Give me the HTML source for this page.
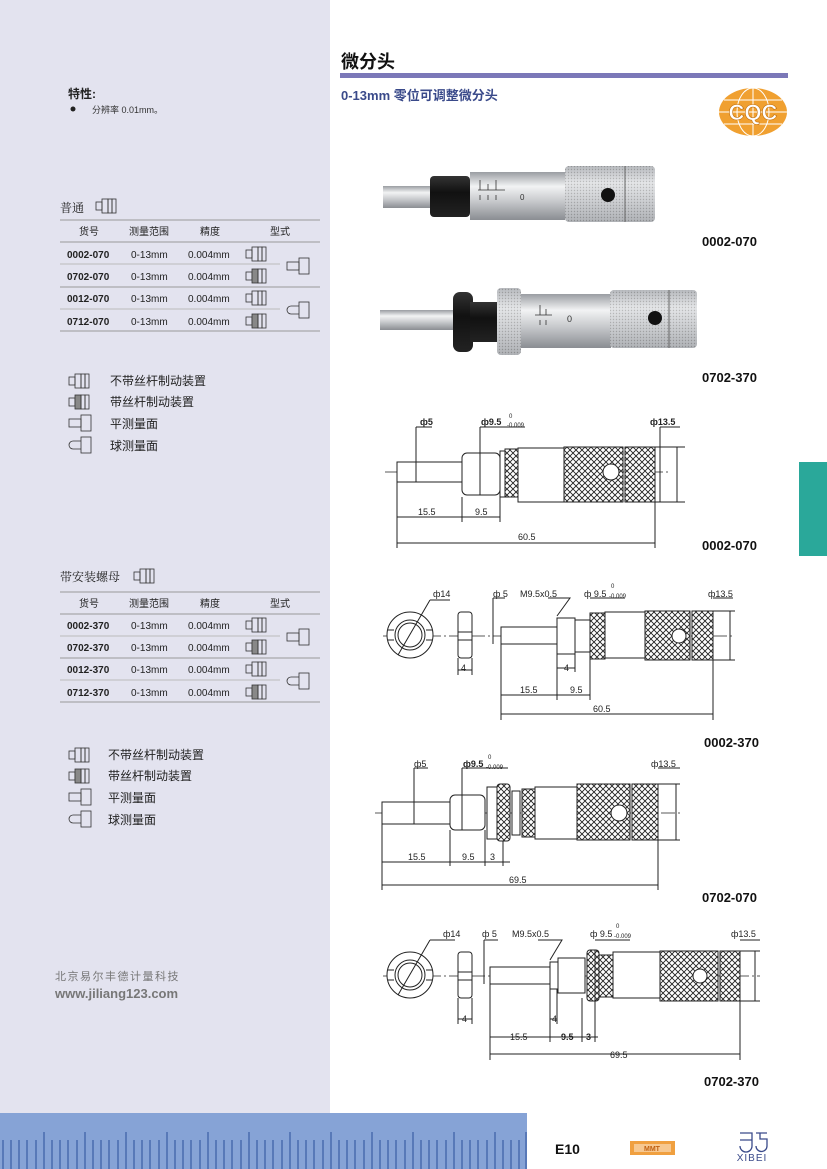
<!DOCTYPE html>
<html><head><meta charset="utf-8"><style>
html,body{margin:0;padding:0;background:#fff}
svg{display:block}
text{font-family:"Liberation Sans","Noto Sans CJK SC",sans-serif}
.s{font-family:"Noto Serif CJK SC","Liberation Serif",serif}
</style></head><body>
<svg width="827" height="1169" viewBox="0 0 827 1169" xmlns="http://www.w3.org/2000/svg">
<defs>
<pattern id="kn" width="6" height="6" patternUnits="userSpaceOnUse">
<rect width="6" height="6" fill="#fff"/><path d="M0 0L6 6M6 0L0 6" stroke="#222" stroke-width="0.9"/>
</pattern>
<pattern id="pk" width="3" height="3" patternUnits="userSpaceOnUse">
<rect width="3" height="3" fill="#d6d8db"/><circle cx="1.5" cy="1.5" r="0.7" fill="#8a8a8a"/>
</pattern>
<linearGradient id="sil" x1="0" y1="0" x2="0" y2="1"><stop offset="0" stop-color="#9a9da2"/><stop offset=".3" stop-color="#f2f3f4"/><stop offset=".6" stop-color="#c8cacd"/><stop offset="1" stop-color="#8a8d92"/></linearGradient>
<linearGradient id="blk" x1="0" y1="0" x2="0" y2="1"><stop offset="0" stop-color="#333"/><stop offset=".4" stop-color="#111"/><stop offset="1" stop-color="#222"/></linearGradient>
<g id="i1"><rect x="0" y="3" width="6" height="8" fill="none" stroke="#333" stroke-width=".8"/><rect x="6" y="0" width="6" height="14" fill="none" stroke="#333" stroke-width=".8"/><rect x="12" y="0" width="4" height="14" fill="none" stroke="#333" stroke-width=".8"/><rect x="16" y="0" width="4" height="14" fill="none" stroke="#333" stroke-width=".8"/></g>
<g id="i2"><rect x="0" y="3" width="6" height="8" fill="none" stroke="#333" stroke-width=".8"/><rect x="6" y="0" width="6" height="14" fill="#888" stroke="#333" stroke-width=".8"/><rect x="12" y="0" width="4" height="14" fill="none" stroke="#333" stroke-width=".8"/><rect x="16" y="0" width="4" height="14" fill="none" stroke="#333" stroke-width=".8"/></g>
<g id="i3"><rect x="0" y="4" width="12" height="8" fill="none" stroke="#333" stroke-width=".8"/><rect x="12" y="0" width="10" height="16" fill="none" stroke="#333" stroke-width=".8"/></g>
<g id="i4"><path d="M12 4H4A4 4 0 0 0 4 12H12" fill="none" stroke="#333" stroke-width=".8"/><rect x="12" y="0" width="10" height="16" fill="none" stroke="#333" stroke-width=".8"/></g>
</defs>

<rect x="0" y="0" width="330" height="1113" fill="#e3e3ef"/>
<rect x="0" y="1113" width="527" height="56" fill="#86a3d6"/>
<g stroke="#2a4f9a" stroke-width="1">
<path d="M3 1140V1169M11 1140V1169M19 1140V1169M27 1140V1169M36 1140V1169M52 1140V1169M60 1140V1169M68 1140V1169M77 1140V1169M93 1140V1169M101 1140V1169M109 1140V1169M118 1140V1169M134 1140V1169M142 1140V1169M150 1140V1169M159 1140V1169M175 1140V1169M183 1140V1169M191 1140V1169M200 1140V1169M216 1140V1169M224 1140V1169M232 1140V1169M241 1140V1169M257 1140V1169M265 1140V1169M273 1140V1169M282 1140V1169M298 1140V1169M306 1140V1169M314 1140V1169M323 1140V1169M339 1140V1169M347 1140V1169M355 1140V1169M364 1140V1169M380 1140V1169M388 1140V1169M396 1140V1169M405 1140V1169M421 1140V1169M429 1140V1169M437 1140V1169M446 1140V1169M462 1140V1169M470 1140V1169M478 1140V1169M487 1140V1169M503 1140V1169M511 1140V1169M519 1140V1169"/>
<path d="M44 1132V1169M85 1132V1169M126 1132V1169M167 1132V1169M208 1132V1169M249 1132V1169M290 1132V1169M331 1132V1169M372 1132V1169M413 1132V1169M454 1132V1169M495 1132V1169M526 1132V1169"/>
</g>
<rect x="799" y="462" width="28" height="94" fill="#2aa89a"/>

<text x="341" y="68" font-size="18" font-weight="bold" fill="#111">微分头</text>
<rect x="340" y="73" width="448" height="5" fill="#7b78b8"/>
<text x="341" y="100" font-size="13" font-weight="bold" fill="#3a4a8a">0-13mm 零位可调整微分头</text>
<ellipse cx="753" cy="112" rx="34" ry="24" fill="#f0a030"/>
<g stroke="#fff" stroke-width="1" fill="none"><ellipse cx="753" cy="112" rx="16" ry="24"/><path d="M719 112H787M724 100H782M724 124H782M753 88V136"/></g>
<text x="753" y="120" font-size="22" font-weight="bold" fill="#fff" text-anchor="middle" stroke="#c07010" stroke-width=".6">CQC</text>

<text x="68" y="98" font-size="12" font-weight="bold" fill="#222">特性:</text>
<circle cx="73" cy="109" r="2.5" fill="#222"/>
<text x="92" y="113" font-size="9" fill="#333">分辨率 0.01mm。</text>

<text x="60" y="212" font-size="12" fill="#222" class="s">普通</text>
<use href="#i1" x="96" y="199"/>
<g stroke="#999" stroke-width="1"><path d="M60 220H320M60 242H320M60 287H320M60 331H320"/><path d="M60 264H280M60 309H280" stroke="#bbb"/></g>
<g font-size="10" fill="#222"><text x="79" y="235">货号</text><text x="129" y="235">测量范围</text><text x="200" y="235">精度</text><text x="270" y="235">型式</text></g>
<g font-size="10" fill="#222">
<text x="67" y="258" font-weight="bold">0002-070</text><text x="131" y="258">0-13mm</text><text x="188" y="258">0.004mm</text>
<text x="67" y="280" font-weight="bold">0702-070</text><text x="131" y="280">0-13mm</text><text x="188" y="280">0.004mm</text>
<text x="67" y="302" font-weight="bold">0012-070</text><text x="131" y="302">0-13mm</text><text x="188" y="302">0.004mm</text>
<text x="67" y="325" font-weight="bold">0712-070</text><text x="131" y="325">0-13mm</text><text x="188" y="325">0.004mm</text>
</g>
<use href="#i1" x="246" y="247"/><use href="#i2" x="246" y="269"/><use href="#i1" x="246" y="291"/><use href="#i2" x="246" y="314"/>
<use href="#i3" x="287" y="258"/><use href="#i4" x="287" y="302"/>

<g font-size="12" fill="#222" class="s">
<use href="#i1" x="69" y="374"/><text x="110" y="385">不带丝杆制动装置</text>
<use href="#i2" x="69" y="395"/><text x="110" y="406">带丝杆制动装置</text>
<use href="#i3" x="69" y="415"/><text x="110" y="428">平测量面</text>
<use href="#i4" x="69" y="437"/><text x="110" y="450">球测量面</text>
</g>

<text x="60" y="581" font-size="12" fill="#222" class="s">带安装螺母</text>
<use href="#i1" x="134" y="569"/>
<g stroke="#999" stroke-width="1"><path d="M60 592H320M60 614H320M60 658H320M60 702H320"/><path d="M60 636H280M60 680H280" stroke="#bbb"/></g>
<g font-size="10" fill="#222"><text x="79" y="607">货号</text><text x="129" y="607">测量范围</text><text x="200" y="607">精度</text><text x="270" y="607">型式</text></g>
<g font-size="10" fill="#222">
<text x="67" y="629" font-weight="bold">0002-370</text><text x="131" y="629">0-13mm</text><text x="188" y="629">0.004mm</text>
<text x="67" y="651" font-weight="bold">0702-370</text><text x="131" y="651">0-13mm</text><text x="188" y="651">0.004mm</text>
<text x="67" y="673" font-weight="bold">0012-370</text><text x="131" y="673">0-13mm</text><text x="188" y="673">0.004mm</text>
<text x="67" y="696" font-weight="bold">0712-370</text><text x="131" y="696">0-13mm</text><text x="188" y="696">0.004mm</text>
</g>
<use href="#i1" x="246" y="618"/><use href="#i2" x="246" y="640"/><use href="#i1" x="246" y="662"/><use href="#i2" x="246" y="685"/>
<use href="#i3" x="287" y="629"/><use href="#i4" x="287" y="673"/>

<g font-size="12" fill="#222" class="s">
<use href="#i1" x="69" y="748"/><text x="108" y="759">不带丝杆制动装置</text>
<use href="#i2" x="69" y="769"/><text x="108" y="780">带丝杆制动装置</text>
<use href="#i3" x="69" y="789"/><text x="108" y="802">平测量面</text>
<use href="#i4" x="69" y="811"/><text x="108" y="824">球测量面</text>
</g>

<text x="55" y="980" font-size="11" fill="#777" letter-spacing="1.5">北京易尔丰德计量科技</text>
<text x="55" y="998" font-size="13" font-weight="bold" fill="#777">www.jiliang123.com</text>

<!-- photos -->
<rect x="383" y="186" width="50" height="22" fill="url(#sil)"/>
<rect x="430" y="176" width="40" height="41" rx="4" fill="url(#blk)"/>
<rect x="470" y="172" width="95" height="48" fill="url(#sil)"/>
<g stroke="#333" stroke-width=".8"><path d="M478 190H505M480 180V190M488 184V190M496 180V190M480 200V195M488 200V195M496 200V195"/></g>
<text x="520" y="200" font-size="8" fill="#333">0</text>
<rect x="565" y="166" width="90" height="56" rx="4" fill="url(#pk)"/>
<rect x="565" y="166" width="90" height="56" rx="4" fill="url(#sil)" opacity=".5"/>
<line x1="625" y1="166" x2="625" y2="222" stroke="#666"/>
<circle cx="608" cy="195" r="7" fill="#111"/>

<rect x="380" y="310" width="76" height="20" fill="url(#sil)"/>
<rect x="453" y="292" width="20" height="60" rx="7" fill="url(#blk)"/>
<rect x="470" y="302" width="27" height="40" fill="url(#blk)"/>
<rect x="497" y="288" width="24" height="67" rx="4" fill="url(#pk)"/>
<rect x="497" y="288" width="24" height="67" rx="4" fill="url(#sil)" opacity=".5"/>
<rect x="521" y="294" width="90" height="54" fill="url(#sil)"/>
<g stroke="#333" stroke-width=".8"><path d="M535 315H552M540 305V315M546 309V315M540 325V320M546 325V320"/></g>
<text x="567" y="322" font-size="9" fill="#333">0</text>
<rect x="610" y="290" width="87" height="58" rx="4" fill="url(#pk)"/>
<rect x="610" y="290" width="87" height="58" rx="4" fill="url(#sil)" opacity=".5"/>
<line x1="669" y1="290" x2="669" y2="348" stroke="#666"/>
<circle cx="655" cy="318" r="7" fill="#111"/>

<g font-size="13" font-weight="bold" fill="#111">
<text x="702" y="246">0002-070</text><text x="702" y="382">0702-370</text>
<text x="702" y="550">0002-070</text><text x="704" y="747">0002-370</text>
<text x="702" y="902">0702-070</text><text x="704" y="1086">0702-370</text>
</g>

<g fill="none" stroke="#222" stroke-width="1" font-size="9">
<path d="M385 472H670" stroke-dasharray="14 3 2 3" stroke-width=".7"/>
<rect x="397" y="462" width="65" height="20" fill="#fff"/>
<rect x="462" y="453" width="38" height="42" rx="5" fill="#fff"/>
<rect x="500" y="451" width="5" height="46" fill="#fff"/>
<rect x="505" y="449" width="13" height="48" fill="url(#kn)"/>
<rect x="518" y="448" width="46" height="54" fill="#fff"/>
<rect x="564" y="447" width="59" height="55" fill="url(#kn)"/>
<rect x="625" y="447" width="30" height="55" fill="url(#kn)"/>
<circle cx="611" cy="472" r="8" fill="#fff"/>
<path d="M397 482V548M462 497V522M500 497V522M655 502V548M416 427V482M480 427V495M660 427V502M655 447H685M655 502H685M677 447V502M416 427H432M480 427H525M660 427H680"/>
<path d="M397 517H500M397 543H655"/>
<path d="M383 636H735" stroke-dasharray="14 3 2 3" stroke-width=".7"/>
<circle cx="410" cy="635" r="23" fill="#fff"/><circle cx="410" cy="635" r="15"/><circle cx="410" cy="635" r="12"/>
<path d="M388 630H394M388 640H394M426 630H432M426 640H432M398 655L430 600M430 600H450"/>
<rect x="458" y="612" width="14" height="46" rx="3" fill="#fff"/>
<path d="M458 632H472M458 640H472M458 658V675M472 658V675M458 670H472"/>
<rect x="501" y="627" width="56" height="17" fill="#fff"/>
<rect x="557" y="618" width="18" height="36" fill="#fff"/>
<rect x="575" y="620" width="15" height="32" fill="#fff"/>
<rect x="590" y="613" width="15" height="46" fill="url(#kn)"/>
<rect x="605" y="612" width="40" height="46" fill="#fff"/>
<rect x="645" y="611" width="45" height="49" fill="url(#kn)"/>
<rect x="692" y="611" width="21" height="49" fill="url(#kn)"/>
<circle cx="679" cy="636" r="7" fill="#fff"/>
<path d="M493 598V644M493 598H505M557 616L570 598H548M590 613V700M590 598H625M713 611H735M713 660H735M730 611V660M713 598H733M713 660V720M501 644V720M557 654V700M575 654V672"/>
<path d="M557 668H575M501 695H590M501 714H713"/>
<path d="M375 813H680" stroke-dasharray="14 3 2 3" stroke-width=".7"/>
<rect x="382" y="802" width="68" height="22" fill="#fff"/>
<rect x="450" y="795" width="35" height="35" rx="5" fill="#fff"/>
<rect x="487" y="787" width="10" height="52" fill="#fff"/>
<rect x="497" y="784" width="13" height="57" rx="3" fill="url(#kn)"/>
<rect x="512" y="791" width="8" height="44" fill="#fff"/>
<rect x="522" y="789" width="13" height="48" fill="url(#kn)"/>
<rect x="535" y="787" width="42" height="52" fill="#fff"/>
<rect x="577" y="784" width="53" height="56" fill="url(#kn)"/>
<rect x="632" y="784" width="26" height="56" fill="url(#kn)"/>
<circle cx="619" cy="813" r="8" fill="#fff"/>
<path d="M382 824V890M450 830V866M485 830V866M503 841V866M658 840V890M414 768V824M462 768V830M414 768H428M462 768H508M658 768H680M658 784H680M658 840H680M676 784V840"/>
<path d="M382 862H510M382 885H658"/>
<path d="M383 976H760" stroke-dasharray="14 3 2 3" stroke-width=".7"/>
<circle cx="410" cy="975" r="23" fill="#fff"/><circle cx="410" cy="975" r="15"/><circle cx="410" cy="975" r="12"/>
<path d="M388 970H394M388 980H394M426 970H432M426 980H432M398 995L430 940M430 940H455"/>
<rect x="458" y="952" width="14" height="46" rx="3" fill="#fff"/>
<path d="M458 972H472M458 980H472M458 998V1024M472 998V1024M458 1019H472"/>
<rect x="490" y="967" width="60" height="17" fill="#fff"/>
<rect x="550" y="962" width="8" height="27" fill="#fff"/>
<rect x="558" y="958" width="27" height="35" fill="#fff"/>
<rect x="587" y="950" width="12" height="51" rx="3" fill="url(#kn)"/>
<rect x="599" y="955" width="14" height="42" fill="url(#kn)"/>
<rect x="613" y="952" width="47" height="46" fill="#fff"/>
<rect x="660" y="951" width="58" height="50" fill="url(#kn)"/>
<rect x="720" y="951" width="20" height="50" fill="url(#kn)"/>
<circle cx="700" cy="976" r="7" fill="#fff"/>
<path d="M484 940V984M484 940H498M550 960L562 940H538M595 950V1042M595 940H630M740 951H760M740 1001H760M755 951V1001M740 940H760M740 1001V1060M490 984V1060M550 989V1042M557 989V1024M582 998V1042"/>
<path d="M550 1019H557M490 1037H598M490 1054H740"/>
</g>

<g font-size="9" fill="#222">
<text x="420" y="425" font-weight="bold">ф5</text>
<text x="481" y="425" font-weight="bold">ф9.5</text><text x="507" y="427" font-size="6">-0.009</text><text x="509" y="418" font-size="6">0</text>
<text x="650" y="425" font-weight="bold">ф13.5</text>
<text x="418" y="515">15.5</text><text x="475" y="515">9.5</text><text x="518" y="540">60.5</text>
<text x="433" y="597">ф14</text><text x="493" y="597">ф 5</text><text x="520" y="597">M9.5x0.5</text>
<text x="584" y="597">ф 9.5</text><text x="609" y="598" font-size="6">-0.009</text><text x="611" y="588" font-size="6">0</text>
<text x="708" y="597">ф13.5</text>
<text x="461" y="671">4</text><text x="564" y="671">4</text><text x="520" y="693">15.5</text><text x="570" y="693">9.5</text><text x="593" y="712">60.5</text>
<text x="414" y="767">ф5</text>
<text x="463" y="767" font-weight="bold">ф9.5</text><text x="486" y="769" font-size="6">-0.009</text><text x="488" y="759" font-size="6">0</text>
<text x="651" y="767">ф13.5</text>
<text x="408" y="860">15.5</text><text x="462" y="860">9.5</text><text x="490" y="860">3</text><text x="509" y="883">69.5</text>
<text x="443" y="937">ф14</text><text x="482" y="937">ф 5</text><text x="512" y="937">M9.5x0.5</text>
<text x="590" y="937">ф 9.5</text><text x="614" y="938" font-size="6">-0.009</text><text x="616" y="928" font-size="6">0</text>
<text x="731" y="937">ф13.5</text>
<text x="462" y="1022">4</text><text x="552" y="1022">4</text><text x="510" y="1040">15.5</text><text x="561" y="1040" font-weight="bold">9.5</text><text x="586" y="1040" font-weight="bold">3</text><text x="610" y="1058">69.5</text>
</g>

<text x="555" y="1154" font-size="14" font-weight="bold" fill="#111">E10</text>
<rect x="630" y="1141" width="45" height="14" fill="#f0a040"/>
<rect x="634" y="1144" width="37" height="8" fill="#f7c890"/>
<text x="652" y="1151" font-size="7" font-weight="bold" fill="#c06010" text-anchor="middle">MMT</text>
<g stroke="#3a4a8a" stroke-width="1.3" fill="none"><path d="M740 1133H752V1146A5 5 0 0 1 740 1146M752 1140H740M756 1133H767M760 1133V1139H767V1146A5 5 0 0 1 756 1146"/></g>
<text x="752" y="1161" font-size="10" fill="#3a4a8a" text-anchor="middle" letter-spacing="1">XIBEI</text>
</svg>
</body></html>
